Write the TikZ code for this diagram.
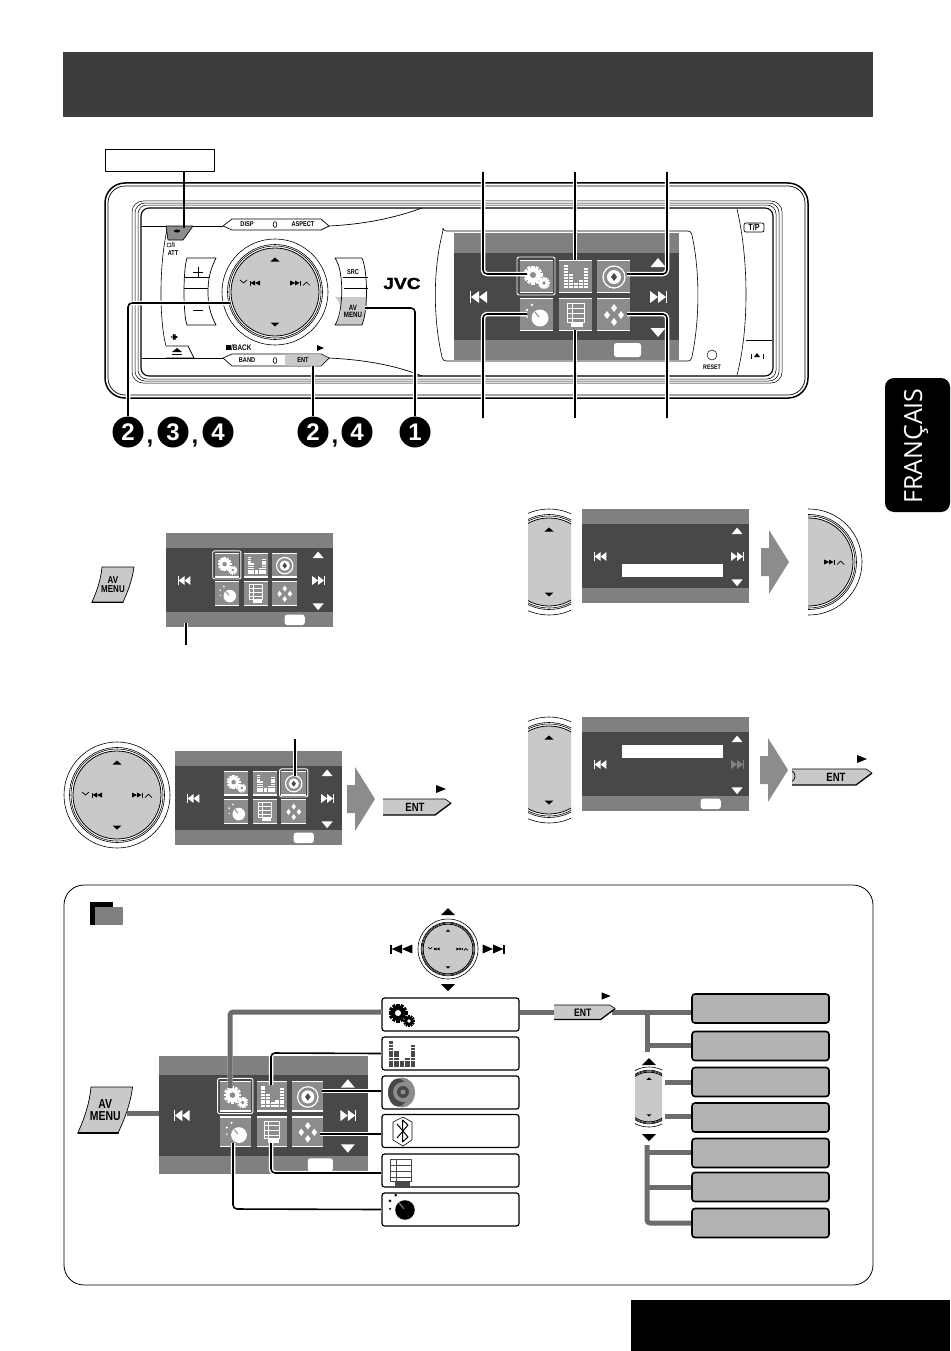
\documentclass[tikz,border=0pt]{standalone}
\usepackage{fontspec}
\setmainfont{Liberation Sans}
\newfontfamily\tabfont{Open Sans}
\newfontfamily\keyfont[FakeStretch=.8]{Liberation Sans}
\newfontfamily\logofont[FakeStretch=1.2,FakeBold=1.5]{Liberation Sans}
\definecolor{bandgrey}{HTML}{808080}
\definecolor{screendark}{HTML}{484848}
\definecolor{tilegrey}{HTML}{8C8C8C}
\definecolor{knobgrey}{HTML}{C9C9C9}
\definecolor{leafgrey}{HTML}{B2B2B2}
\definecolor{linkgrey}{HTML}{6C6C6C}
\newcommand{\tinyfont}[1]{\fontsize{#1}{#1}\selectfont\bfseries}
\newcommand{\keysize}[1]{\keyfont\fontsize{#1}{#1}\selectfont\bfseries}
\newcommand{\linefont}[2]{\keyfont\fontsize{#1}{#2}\selectfont\bfseries}
\newcommand{\cogwheel}[5]{%
	\fill[#4] (#1,#2) circle (#3*0.76);
	\foreach \a in {0,30,60,90,120,150}
	\fill[#4,shift={(#1,#2)},rotate=\a] (-#3*0.16,-#3) rectangle (#3*0.16,#3);
	\fill[#5] (#1,#2) circle (#3*0.32);
}
\tikzset{
	leader/.style={line width=1.6pt,rounded corners=4pt,preaction={draw,white,line width=4.5pt}},
	greylink/.style={line width=5pt,color=linkgrey,rounded corners=3pt},
	bullet/.style={circle,fill=black,text=white,inner sep=0pt,minimum size=31pt,font=\tinyfont{24}},
	commamark/.style={inner sep=0pt,font=\tinyfont{24}},
	menubox/.style={draw,fill=white,line width=1.2pt,rounded corners=2.5pt,minimum width=137pt,minimum height=33pt,inner sep=0pt},
	leafbox/.style={draw,fill=leafgrey,line width=1.6pt,rounded corners=3pt,minimum width=137pt,minimum height=29pt,inner sep=0pt},
	keylabel/.style={inner sep=0pt,font=\keysize{7}},
	pics/skipleft/.style={code={
		\fill[#1] (-9,-6) rectangle (-8,6);
		\fill[#1] (-8,0) -- (0,-6) -- (0,6) -- cycle;
		\fill[#1] (0,0) -- (8,-6) -- (8,6) -- cycle;
	}},
	pics/skipright/.style={code={
		\fill[#1] (9,-6) rectangle (8,6);
		\fill[#1] (8,0) -- (0,-6) -- (0,6) -- cycle;
		\fill[#1] (0,0) -- (-8,-6) -- (-8,6) -- cycle;
	}},
	pics/screenbase/.style 2 args={code={
		\fill[bandgrey] (0,0) rectangle (225,127);
		\fill[screendark] (0,20) rectangle (225,107);
		\pic[transform shape] at (25,64) {skipleft=white};
		\pic[transform shape] at (#2,64) {skipright=#1};
		\fill[white] (#2,25) -- (#2+7.5,34) -- (#2-7.5,34) -- cycle;
		\fill[white] (#2,104) -- (#2+7.5,95) -- (#2-7.5,95) -- cycle;
	}},
	pics/screenoval/.style={code={
		\fill[white,rounded corners=2.5pt] (160,110) rectangle (187,124);
	}},
	pics/tile/.style={code={
		\fill[tilegrey] (0,0) rectangle (33,33);
		\fill[white] (0,0) rectangle (33,1.2);
		\fill[white] (0,31.5) rectangle (33,33);
	}},
	pics/gearicon/.style 2 args={code={
		\cogwheel{13}{15}{9.5}{#1}{#2}
		\cogwheel{24}{23}{6}{#1}{#2}
	}},
	pics/eqicon/.style={code={
		\foreach \c/\h in {0/7,1/4,2/1,3/2,4/6}
		\foreach \k in {0,...,\h}
		\fill[#1] (5+\c*5,28-\k*3) rectangle +(4.2,-2.2);
	}},
	pics/ringicon/.style={code={
		\draw[white,line width=1.2pt] (17,17) circle (11);
		\fill[white] (17,17) circle (7);
		\fill[screendark] (17,13) -- (20,17) -- (17,21) -- (14,17) -- cycle;
	}},
	pics/dialicon/.style={code={
		\fill[#1] (20,20) circle (8.5);
		\draw[tilegrey,line width=1pt] (15,14) -- (19,19);
		\fill[#1] (12,7) circle (1.3) (7,12) circle (1.3) (7,19) circle (1);
	}},
	pics/docicon/.style={code={
		\draw[#1,line width=.9pt] (8,5) rectangle (25,24);
		\draw[#1,line width=.7pt] (8,10) -- (25,10) (8,15) -- (25,15) (8,20) -- (25,20) (13,5) -- (13,24);
		\fill[#1] (12,24) rectangle (24,29);
	}},
	pics/diamondsicon/.style={code={
		\foreach \px/\py in {17/10,10/17,24/17,17/24}
		\fill[#1] (\px,\py-4) -- (\px+3,\py) -- (\px,\py+4) -- (\px-3,\py) -- cycle;
	}},
	pics/screenicons/.style={code={
		\foreach \tx/\ty in {66/27,105/27,143/27,66/65,105/65,143/65}
		\pic[transform shape] at (\tx,\ty) {tile};
		\pic[transform shape] at (66,27) {gearicon={white}{tilegrey}};
		\pic[transform shape] at (105,27) {eqicon=white};
		\pic[transform shape] at (143,27) {ringicon};
		\pic[transform shape] at (66,65) {dialicon=white};
		\pic[transform shape] at (105,65) {docicon=white};
		\pic[transform shape] at (143,65) {diamondsicon=white};
		\draw[white,line width=.9pt,rounded corners=2pt] (#1,24) rectangle (#1+38,62);
	}},
	pics/knobring/.style={code={
		\draw[fill=white,line width=.6pt] (0,0) circle (53);
		\draw[line width=.6pt] (0,0) circle (47.5);
		\draw[line width=.6pt] (0,0) circle (46);
		\draw[fill=knobgrey,line width=.8pt] (0,0) circle (44);
	}},
	pics/knobvert/.style={code={
		\fill (0,-34.5) -- (4.5,-30.5) -- (-4.5,-30.5) -- cycle;
		\fill (0,34.5) -- (4.5,30.5) -- (-4.5,30.5) -- cycle;
	}},
	pics/knobprev/.style={code={
		\draw[line width=.7pt] (-35,-3) -- (-31.5,0) -- (-28,-3);
		\fill (-25,-2.5) rectangle (-24.5,2.5);
		\fill (-24.5,0) -- (-20,-2.5) -- (-20,2.5) -- cycle;
		\fill (-20,0) -- (-15,-2.5) -- (-15,2.5) -- cycle;
	}},
	pics/knobnext/.style={code={
		\draw[line width=.7pt] (35,2.5) -- (31.5,-1) -- (28,2.5);
		\fill (25,-2.5) rectangle (24.5,2.5);
		\fill (24.5,0) -- (20,-2.5) -- (20,2.5) -- cycle;
		\fill (20,0) -- (15,-2.5) -- (15,2.5) -- cycle;
	}},
	pics/avkey/.style={code={
		\draw[fill=knobgrey,line width=.7pt] (10,0) -- (42,0) .. controls (40,14) and (36,24) .. (31,35) -- (0,35) .. controls (5,24) and (9,12) .. (10,0) -- cycle;
		\draw[line width=1.5pt,line cap=round] (0,35.5) -- (31,35.5);
		\node[transform shape,inner sep=0pt,align=center,font=\linefont{10}{9}] (avtext) at (21,18) {AV\\MENU};
	}},
	pics/entkey/.style={code={
		\fill[knobgrey] (-#1,0) -- (62,0) -- (68,4) -- (52,16) -- (-#1,16) -- cycle;
		\draw[line width=.6pt] (-#1,0) -- (62,0) -- (68,4);
		\draw[line width=1.3pt] (68,4) -- (52,16) -- (-#1,16);
		\node[transform shape,inner sep=0pt,font=\keysize{12}] (enttext) at (32,8.5) {ENT};
		\fill (53,-14) -- (63,-10) -- (53,-6) -- cycle;
	}},
	pics/bigarrow/.style={code={
		\fill[tilegrey] (0,-14) -- (8,-14) -- (8,-32) -- (28,0) -- (8,32) -- (8,14) -- (0,14) -- cycle;
	}}
}
\begin{document}
\begin{tikzpicture}[x=1pt,y=-1pt,line join=round,>=stealth]
	\useasboundingbox (0,0) rectangle (950,1351);
	\fill[screendark!85!black] (63,52) rectangle (873,117);
	\fill[black] (631,1300) rectangle (950,1351);
	\fill[black,rounded corners=9pt] (950,378) -- (885,378) -- (885,512) -- (950,512) -- cycle;
	\node[rotate=90,text=white,inner sep=0pt,font=\tabfont\fontsize{25}{25}\selectfont] (tabname) at (916,446) {FRANÇAIS};

	% head unit
	\draw[line width=1.5pt,rounded corners=20pt] (105,183) rectangle (808,398);
	\draw[line width=.7pt,rounded corners=17pt] (108,186) rectangle (805,395);
	\draw[line width=.5pt,rounded corners=11pt] (132,201) rectangle (782,383);
	\draw[line width=.5pt,rounded corners=10pt] (135,203) rectangle (779,381);
	\draw[line width=.5pt,rounded corners=9pt] (138,205) rectangle (776,379);
	\fill[white,rounded corners=8pt] (141,208) rectangle (773,376);
	\draw[line width=1.1pt,rounded corners=8pt] (141,208) rectangle (773,376);
	\draw[line width=.7pt] (142,226) -- (223,226);
	\draw[line width=.7pt] (142,358) -- (223,358);
	\draw[line width=.7pt] (329,226) .. controls (370,224) and (400,216) .. (422,208);
	\draw[line width=.7pt] (329,358) .. controls (370,360) and (400,367) .. (422,376);
	\draw[line width=.6pt] (168,226) .. controls (159,260) and (159,320) .. (166,346);
	\draw[fill=white,line width=.7pt] (223,226) -- (232,219) -- (321,219) -- (329,226) -- (321,230) -- (232,230) -- cycle;
	\draw[fill=white,line width=.7pt] (223,358) -- (232,354) -- (321,354) -- (329,358) -- (321,366) -- (232,366) -- cycle;
	\fill[knobgrey] (285,354.4) -- (321,354.4) -- (328,358) -- (321,365.6) -- (285,365.6) -- cycle;
	\draw[fill=tilegrey,line width=.7pt] (166,226) -- (193,226) -- (183,240) -- (168,240) -- cycle;
	\fill (177,231) ellipse (3 and 1.5);
	\draw[line width=.7pt] (166,346) -- (188,346) -- (194,358) -- (166,358);
	\fill (177,348) -- (182,352) -- (172,352) -- cycle;
	\fill (172,353.5) rectangle (182,355);
	\fill (173,334) -- (178,337) -- (173,340) -- cycle;
	\draw[line width=.5pt] (176,334) -- (171,337) -- (176,340);
	\node[keylabel] (dispkey) at (247,224.5) {DISP};
	\node[keylabel] (aspectkey) at (303,224.5) {ASPECT};
	\node[keylabel] (bandkey) at (247,360.5) {BAND};
	\node[keylabel] (entkey) at (303,360.5) {ENT};
	\draw[line width=.6pt] (275,224.5) ellipse (1.8 and 3);
	\draw[line width=.6pt] (275,360.5) ellipse (1.8 and 3);
	\fill (226,345) rectangle (231,350);
	\node[keylabel,font=\keysize{8},anchor=west] (backkey) at (231,347.5) {/BACK};
	\fill (317,345) -- (324,348) -- (317,351) -- cycle;
	\draw[line width=.5pt] (169,245) circle (2);
	\node[keylabel,anchor=west] (offkey) at (171.5,245) {/I};
	\node[keylabel] (attkey) at (173,253) {ATT};

	% rocker keys
	\draw[fill=white,line width=.7pt] (187,258) -- (216,258) .. controls (210,270) and (208,280) .. (208,292) .. controls (208,304) and (210,314) .. (216,325) -- (187,325) .. controls (183,314) and (183,270) .. (187,258) -- cycle;
	\draw[line width=.5pt] (184,277) -- (209,277) (184,288) -- (208,288);
	\draw[line width=.8pt] (193,272) -- (203,272) (198,267) -- (198,277);
	\draw[line width=.8pt] (193,310) -- (203,310);
	\fill[knobgrey] (335,297) -- (367,297) .. controls (367,310) and (365,318) .. (362,325) -- (335,325) .. controls (342,316) and (344,306) .. (335,297) -- cycle;
	\draw[line width=.7pt] (335,258) -- (362,258) .. controls (368,272) and (368,310) .. (362,325) -- (335,325) .. controls (343,314) and (345,272) .. (335,258);
	\draw[line width=.5pt] (343,277) -- (368,277) (344,288) -- (368,288);
	\node[keylabel] (srckey) at (353,272.5) {SRC};
	\node[keylabel,align=center,font=\linefont{7.7}{7}] (avkey) at (353,311) {AV\\MENU};
	\node[inner sep=0pt,font=\logofont\fontsize{16}{16}\selectfont\bfseries] (jvclogo) at (402,283.5) {JVC};

	% big knob
	\pic at (275,292) {knobring};
	\pic at (275,292) {knobvert};
	\pic at (275,283) {knobprev};
	\pic at (275,283) {knobnext};

	% display
	\draw[line width=.6pt,rounded corners=3pt] (443,231) -- (691,231) .. controls (700,270) and (700,320) .. (691,361) -- (443,361) .. controls (433,320) and (433,270) .. (443,231) -- cycle;
	\pic at (454,233) {screenbase={white}{204}};
	\pic at (454,233) {screenoval};
	\pic at (454,233) {screenicons=63};

	% right end
	\draw[line width=.6pt] (737,209) .. controls (749,260) and (749,330) .. (737,375);
	\draw[line width=.6pt] (746,340) -- (772,340);
	\draw[line width=.7pt,rounded corners=2pt] (744,223) rectangle (764,232);
	\node[keylabel,font=\keysize{9}] (tpkey) at (754,227.5) {T/P};
	\draw[line width=.5pt] (712,355) circle (5);
	\node[keylabel,font=\keysize{6.6}] (resetkey) at (712,367) {RESET};
	\fill (754,357) -- (757,353) -- (760,357) -- cycle;
	\draw[line width=.5pt] (751,354) -- (751,359) (763,354) -- (763,359);

	% leaders of the head unit
	\node[draw,fill=white,line width=.7pt,minimum width=109pt,minimum height=22pt,inner sep=0pt] (attbox) at (159.5,160) {};
	\coordinate (powerkey) at (184,228);
	\draw[line width=1.6pt] (attbox.south -| powerkey) -- (powerkey);
	\node[bullet] (stepa) at (128,432) {2};
	\node[bullet] (stepb) at (173,432) {3};
	\node[bullet] (stepc) at (218,432) {4};
	\node[bullet] (stepd) at (313,432) {2};
	\node[bullet] (stepe) at (357,432) {4};
	\node[bullet] (stepf) at (415,432) {1};
	\node[commamark] (commaa) at (150,444) {,};
	\node[commamark] (commab) at (195,444) {,};
	\node[commamark] (commac) at (335,444) {,};
	\coordinate (knobleft) at (230,303);
	\coordinate (entpoint) at (313,366);
	\coordinate (avpoint) at (365,308);
	\draw[leader] (stepa.north) |- (knobleft);
	\draw[leader] (stepd.north) -- (entpoint);
	\draw[leader] (stepf.north) |- (avpoint);
	\foreach \nm/\lx/\ly/\tx/\ty in {gear/483/172/527/274,ring/667/172/627/274,dial/483/418/527/314,bt/667/418/627/314}{
		\coordinate (\nm top) at (\lx,\ly);
		\coordinate (\nm tip) at (\tx,\ty);
		\draw[leader] (\nm top) |- (\nm tip);
	}
	\coordinate (eqtop) at (575,172);
	\coordinate (eqtip) at (575,260);
	\coordinate (doctop) at (575,418);
	\coordinate (doctip) at (575,330);
	\draw[leader] (eqtop) -- (eqtip);
	\draw[leader] (doctop) -- (doctip);

	% step one
	\pic at (92,567) {avkey};
	\pic[scale=.742] at (166,533) {screenbase={white}{205}};
	\pic[scale=.742] at (166,533) {screenoval};
	\pic[scale=.742] at (166,533) {screenicons=63};
	\coordinate (barfoot) at (186,645);
	\coordinate (barhead) at (186,623);
	\draw[leader] (barfoot) -- (barhead);

	% step two
	\pic at (117,795) {knobring};
	\pic at (117,795) {knobvert};
	\pic at (117,795) {knobprev};
	\pic at (117,795) {knobnext};
	\pic[scale=.742] at (175,751) {screenbase={white}{205}};
	\pic[scale=.742] at (175,751) {screenoval};
	\pic[scale=.742] at (175,751) {screenicons=141};
	\coordinate (ringfoot) at (295,739);
	\coordinate (ringhead) at (295,776);
	\draw[leader] (ringfoot) -- (ringhead);
	\pic at (347,799) {bigarrow};
	\pic at (383,799) {entkey=0};

	% step three
	\begin{scope}
		\clip (528,500) rectangle (571,625);
		\pic at (549,562) {knobring};
		\pic at (549,562) {knobvert};
	\end{scope}
	\pic[scale=.742] at (582,509) {screenbase={white}{209}};
	\fill[white] (622,564) rectangle (723,577);
	\pic at (761,562) {bigarrow};
	\begin{scope}
		\clip (808,500) rectangle (870,625);
		\pic at (809,562) {knobring};
		\pic at (809,562) {knobnext};
	\end{scope}

	% step four
	\begin{scope}
		\clip (528,710) rectangle (571,830);
		\pic at (549,770) {knobring};
		\pic at (549,770) {knobvert};
	\end{scope}
	\pic[scale=.742] at (582,717) {screenbase={bandgrey}{209}};
	\pic[scale=.742] at (582,717) {screenoval};
	\fill[white] (622,745) rectangle (723,758);
	\pic at (760,770) {bigarrow};
	\pic at (804,769) {entkey=12};
	\draw[line width=.7pt] (792,771) arc[start angle=-60,end angle=60,radius=6];

	% chart
	\draw[line width=.8pt,rounded corners=20pt] (64,885) rectangle (873,1285);
	\fill[black] (90,902) rectangle (113,925);
	\fill[bandgrey] (95,907) rectangle (123,925);
	\pic[scale=.566] at (448,949) {knobring};
	\pic[scale=.566] at (448,949) {knobvert};
	\pic[scale=.566] at (448,949) {knobprev};
	\pic[scale=.566] at (448,949) {knobnext};
	\fill (448,908) -- (455,915) -- (441,915) -- cycle;
	\fill (448,991) -- (455,984) -- (441,984) -- cycle;
	\pic[xscale=1.3,yscale=.75] at (402,949) {skipleft=black};
	\pic[xscale=1.3,yscale=.75] at (493,949) {skipright=black};

	\pic[scale=1.3] at (78,1087) {avkey};
	\pic[scale=.93] at (159,1056) {screenbase={white}{203}};
	\pic[scale=.93] at (159,1056) {screenoval};
	\pic[scale=.93] at (159,1056) {screenicons=63};

	\node[menubox] (boxgear) at (450.5,1014.5) {};
	\node[menubox] (boxeq) at (450.5,1053.5) {};
	\node[menubox] (boxring) at (450.5,1092.5) {};
	\node[menubox] (boxbt) at (450.5,1131) {};
	\node[menubox] (boxdoc) at (450.5,1170.5) {};
	\node[menubox] (boxdial) at (450.5,1209.5) {};
	\pic at (385,998) {gearicon={black}{white}};
	\pic[scale=1.1] at (383,1036) {eqicon=screendark};
	\fill[tilegrey] (402,1092.5) ellipse (13 and 15);
	\fill[screendark] (398,1092.5) ellipse (10 and 14);
	\fill[tilegrey] (403,1092) circle (10);
	\fill[screendark] (403,1092) circle (6);
	\fill[tilegrey] (403,1092) circle (2.5);
	\draw[line width=.6pt] (393,1122) -- (403,1117) -- (412,1122) -- (412,1140) -- (403,1146) -- (393,1140) -- cycle;
	\draw[line width=1pt] (397,1124) -- (408,1137) -- (402.5,1142) -- (402.5,1120) -- (408,1125) -- (397,1138);
	\pic[scale=1.2] at (381,1153) {docicon=screendark};
	\pic[scale=1.15] at (382,1187) {dialicon=black};

	\coordinate (avout) at (127,1113);
	\coordinate (screenin) at (159,1113);
	\draw[greylink] (avout) -- (screenin);
	\coordinate (gearin) at (230,1088);
	\coordinate (gearbend) at (230,1012);
	\draw[greylink,preaction={draw,white,line width=5pt}] (gearin) -- (gearbend) -- (gearbend -| boxgear.west);
	\coordinate (eqin) at (271,1085);
	\coordinate (eqbend) at (271,1053);
	\draw[leader] (eqin) -- (eqbend) -- (boxeq.west);
	\coordinate (ringin) at (322,1091);
	\draw[leader] (ringin) -- (ringin -| boxring.west);
	\coordinate (btin) at (320,1134);
	\draw[leader] (btin) -- (btin -| boxbt.west);
	\coordinate (docin) at (271,1143);
	\coordinate (docbend) at (271,1173);
	\draw[leader] (docin) -- (docbend) -- (docbend -| boxdoc.west);
	\coordinate (dialin) at (233,1143);
	\coordinate (dialbend) at (233,1209);
	\draw[leader] (dialin) -- (dialbend) -- (boxdial.west);

	\node[leafbox] (leafa) at (760.5,1008.5) {};
	\node[leafbox] (leafb) at (760.5,1046) {};
	\node[leafbox] (leafc) at (760.5,1082) {};
	\node[leafbox] (leafd) at (760.5,1117.5) {};
	\node[leafbox] (leafe) at (760.5,1153) {};
	\node[leafbox] (leaff) at (760.5,1187) {};
	\node[leafbox] (leafg) at (760.5,1223) {};
	\coordinate (entout) at (554,1012);
	\coordinate (entback) at (612,1012);
	\coordinate (branchtop) at (647,1012);
	\coordinate (branchfoot) at (647,1052);
	\coordinate (branchleft) at (647,1045);
	\coordinate (lowertop) at (647,1145);
	\coordinate (lowerfoot) at (647,1223);
	\draw[greylink] (boxgear.east |- entout) -- (entout);
	\draw[greylink] (entback) -- (entback -| leafa.west);
	\pic[scale=.9] at (554,1005) {entkey=0};
	\draw[greylink] (branchtop) -- (branchfoot);
	\draw[greylink] (branchleft) -- (branchleft -| leafb.west);
	\draw[greylink,rounded corners=3pt] (lowertop) -- (lowerfoot) -- (leafg.west);
	\coordinate (lowere) at (647,1152);
	\coordinate (lowerf) at (647,1187);
	\draw[greylink] (lowere) -- (lowere -| leafe.west);
	\draw[greylink] (lowerf) -- (lowerf -| leaff.west);
	\coordinate (stubc) at (665,1082.5);
	\coordinate (stubd) at (665,1116);
	\draw[greylink] (stubc) -- (stubc -| leafc.west);
	\draw[greylink] (stubd) -- (stubd -| leafd.west);
	\begin{scope}
		\clip (635,1060) rectangle (662,1135);
		\pic[scale=.566] at (649,1097) {knobring};
		\pic[scale=.566] at (649,1097) {knobvert};
	\end{scope}
	\fill (649,1058) -- (656,1065) -- (642,1065) -- cycle;
	\fill (649,1141) -- (656,1134) -- (642,1134) -- cycle;
\end{tikzpicture}
\end{document}
